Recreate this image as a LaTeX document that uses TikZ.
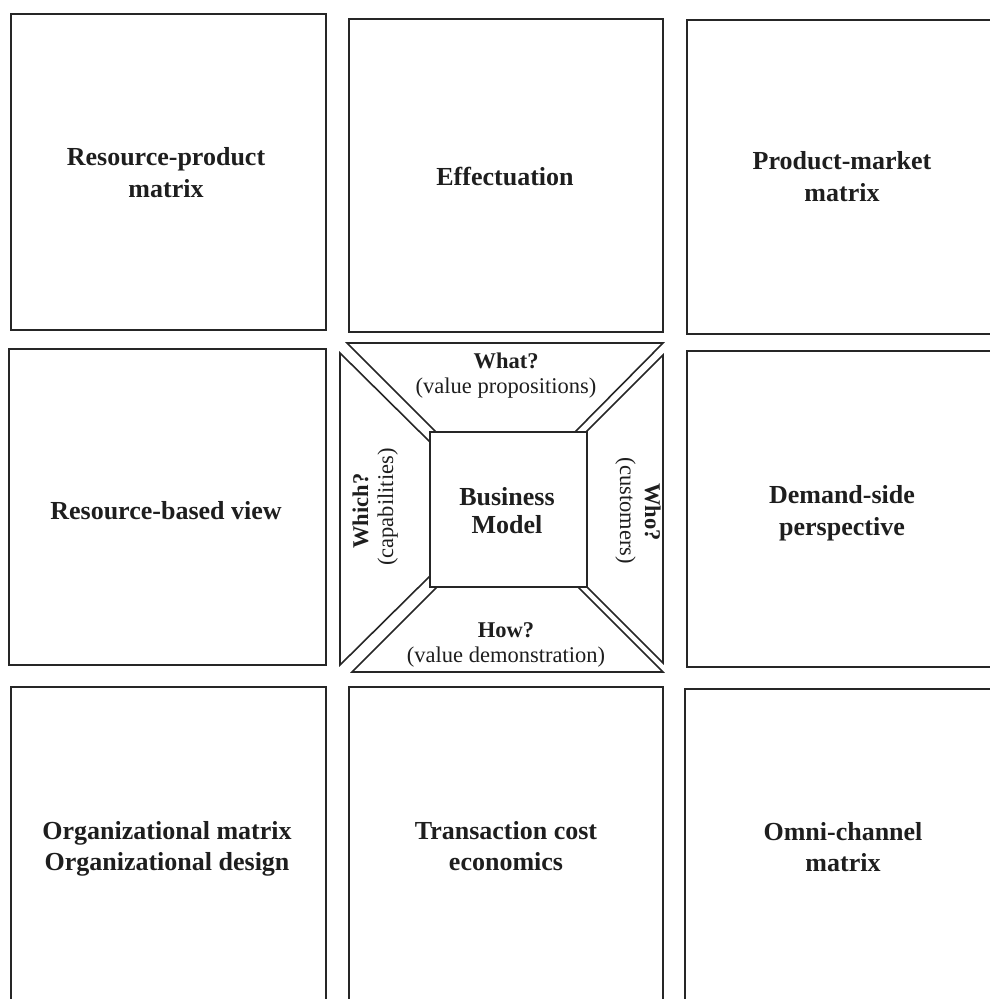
\documentclass[tikz,border=0pt]{standalone}
\usepackage{fontspec}
\setmainfont{Liberation Serif}
\definecolor{ink}{HTML}{262626}
\definecolor{txt}{HTML}{1E1E1E}
\begin{document}
\begin{tikzpicture}[x=1pt,y=-1pt,
  frame/.style={draw=ink, line width=1.6pt, line join=miter},
  lbl/.style={font=\fontsize{26}{32}\selectfont\bfseries, text=txt, anchor=base, inner sep=0pt},
  qbold/.style={font=\fontsize{22.5}{25}\selectfont\bfseries, text=txt, anchor=base, inner sep=0pt},
  qnorm/.style={font=\fontsize{22.5}{25}\selectfont, text=txt, anchor=base, inner sep=0pt}]
\useasboundingbox (0,0) rectangle (990,999);
\clip (0,0) rectangle (990,999);

% outer grid of eight panels
\draw[frame] (11,14)  rectangle (326,330);
\draw[frame] (349,19) rectangle (663,332);
\draw[frame] (687,20) rectangle (1001,334);
\draw[frame] (9,349)  rectangle (326,665);
\draw[frame] (687,351) rectangle (1001,667);
\draw[frame] (11,687) rectangle (326,1010);
\draw[frame] (349,687) rectangle (663,1010);
\draw[frame] (685,689) rectangle (1000,1010);

% central square and the four trapezoids around it
\draw[frame] (430,432) rectangle (587,587);
\draw[frame] (347,343) -- (663,343) -- (575,432) -- (436,432) -- cycle;
\draw[frame] (663,355) -- (663,663) -- (587,587) -- (587,431) -- cycle;
\draw[frame] (352,672) -- (663,672) -- (578,587) -- (437,587) -- cycle;
\draw[frame] (340,353) -- (340,665) -- (430,576) -- (430,442) -- cycle;

% panel labels
\node[lbl] (rp1) at (166,165) {Resource-product};
\node[lbl] (rp2) at (166,197) {matrix};
\node[lbl] (eff) at (505,185) {Effectuation};
\node[lbl] (pm1) at (842,169) {Product-market};
\node[lbl] (pm2) at (842,201) {matrix};
\node[lbl] (rbv) at (166,519) {Resource-based view};
\node[lbl] (ds1) at (842,503) {Demand-side};
\node[lbl] (ds2) at (842,535) {perspective};
\node[lbl] (om1) at (167,839) {Organizational matrix};
\node[lbl] (om2) at (167,870) {Organizational design};
\node[lbl] (tc1) at (506,839) {Transaction cost};
\node[lbl] (tc2) at (506,870) {economics};
\node[lbl] (oc1) at (843,840) {Omni-channel};
\node[lbl] (oc2) at (843,871) {matrix};

% centre
\node[lbl] (bm1) at (507,505) {Business};
\node[lbl] (bm2) at (507,533) {Model};

% questions
\node[qbold] (wh1) at (506,368) {What?};
\node[qnorm] (wh2) at (506,393) {(value propositions)};
\node[qbold] (ho1) at (506,637) {How?};
\node[qnorm] (ho2) at (506,662) {(value demonstration)};
\node[qbold, rotate=90] (wc1) at (368,511) {Which?};
\node[qnorm, rotate=90] (wc2) at (393,507) {(capabilities)};
\node[qbold, rotate=-90] (wo1) at (645,512) {Who?};
\node[qnorm, rotate=-90] (wo2) at (620,511) {(customers)};
\end{tikzpicture}
\end{document}
